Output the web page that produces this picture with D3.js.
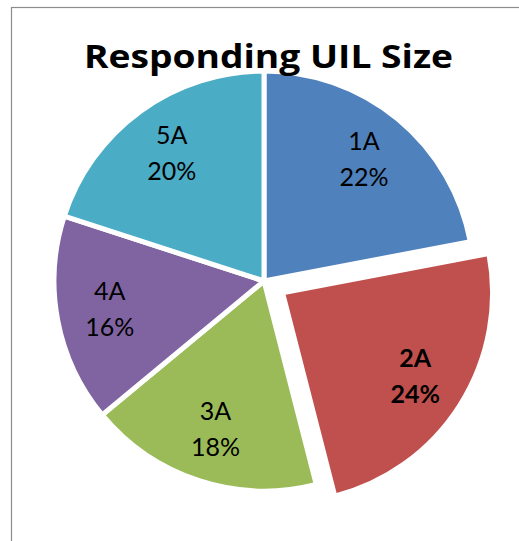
<!DOCTYPE html>
<html>
<head>
<meta charset="utf-8">
<script src="https://cdn.jsdelivr.net/npm/d3@7"></script>
<style>
  body { margin: 0; background: #fff; }
  text { font-family: Lato, "Open Sans", sans-serif; }
  text.title { font-family: "Open Sans", Lato, sans-serif; }
</style>
</head>
<body>
<div id="chart"></div>
<script>
// chart data
const categories = ["1A", "2A", "3A", "4A", "5A"];
const values = [22, 24, 18, 16, 20];
const colors = ["#4F81BD", "#C0504D", "#9BBB59", "#8064A2", "#4BACC6"];
const exploded = ["2A"];
const title = "Responding UIL Size";

const width = 519; const height = 541;
const cx = 264; const cy = 281;
const radius = 210;
const explodeDist = 22;

let svg = d3.select('#chart')
    .append('svg')
        .attr('width', width)
        .attr('height', height);

// chart frame (only left/top edges visible in the crop)
svg.append('rect')
    .attr('x', 11.5).attr('y', 7.5)
    .attr('width', 600).attr('height', 600)
    .attr('fill', 'none')
    .attr('stroke', '#8c8c8c')
    .attr('stroke-width', 1.2);

const data = categories.map(function(c, i){
    return {name: c, value: values[i], color: colors[i]};
});
const total = d3.sum(values);

const pie = d3.pie()
    .value(function(d){ return d.value; })
    .sort(null);
const arc = d3.arc().innerRadius(0).outerRadius(radius);
const labelArc = d3.arc().innerRadius(157).outerRadius(157);

const arcs = pie(data);

function offset(d){
    if (exploded.indexOf(d.data.name) < 0) return [0, 0];
    const a = (d.startAngle + d.endAngle) / 2;
    return [Math.sin(a) * explodeDist, -Math.cos(a) * explodeDist];
}

let plotG = svg.append('g')
    .attr('transform', `translate(${cx}, ${cy})`);

let slices = plotG.selectAll('g.slice')
    .data(arcs)
    .join('g')
        .attr('class', 'slice')
        .attr('transform', function(d){
            const o = offset(d);
            return `translate(${o[0]}, ${o[1]})`;
        });

slices.append('path')
    .attr('d', arc)
    .attr('fill', function(d){ return d.data.color; })
    .attr('stroke', '#fff')
    .attr('stroke-width', 5)
    .attr('stroke-linejoin', 'miter');

let labels = slices.append('text')
    .attr('text-anchor', 'middle')
    .attr('font-size', 25)
    .attr('fill', '#000')
    .attr('font-weight', function(d){
        return exploded.indexOf(d.data.name) >= 0 ? 'bold' : 'normal';
    })
    .attr('transform', function(d){
        const c = labelArc.centroid(d);
        return `translate(${c[0]}, ${c[1]})`;
    });

labels.append('tspan')
    .attr('x', 0).attr('y', -10)
    .text(function(d){ return d.data.name; });
labels.append('tspan')
    .attr('x', 0).attr('y', 26)
    .text(function(d){ return Math.round(d.data.value / total * 100) + '%'; });

// title drawn last so it sits over the top of the pie
svg.append('text')
    .attr('class', 'title')
    .attr('x', 268.5).attr('y', 68)
    .attr('text-anchor', 'middle')
    .attr('font-size', 33)
    .attr('font-weight', 'bold')
    .attr('textLength', 369)
    .attr('lengthAdjust', 'spacingAndGlyphs')
    .attr('fill', '#000')
    .text(title);
</script>
</body>
</html>
